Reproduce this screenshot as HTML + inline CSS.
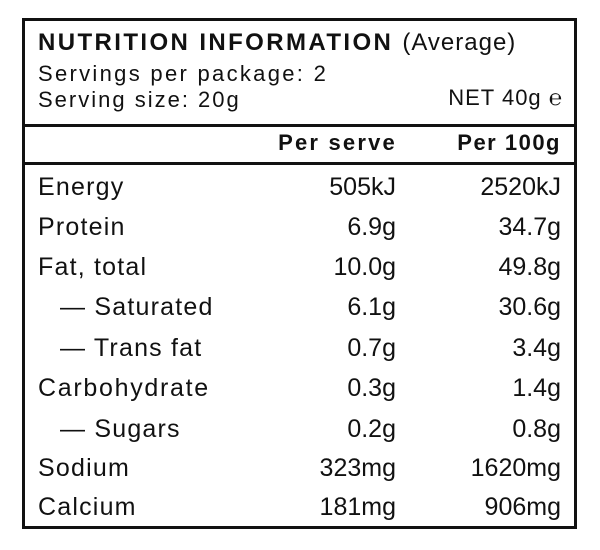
<!DOCTYPE html>
<html><head><style>
body{margin:0;width:600px;height:550px;background:#fff;font-family:"Liberation Sans",sans-serif;color:#111;position:relative;overflow:hidden}
.box{position:absolute;left:22px;top:18px;width:549px;height:505px;border:3px solid #111}
.hl{position:absolute;left:22px;width:555px;height:3px;background:#111}
.t{position:absolute;white-space:nowrap;line-height:1}
.r{position:absolute;white-space:nowrap;line-height:1;text-align:right;margin-right:-1px}
.row{font-size:25px;letter-spacing:1.2px}
</style></head><body>
<div class="box"></div>
<div class="hl" style="top:124px"></div>
<div class="hl" style="top:162px"></div>
<div class="t" style="left:38px;top:31px;font-size:24px;letter-spacing:2.4px"><b>NUTRITION INFORMATION</b> <span style="letter-spacing:1px">(Average)</span></div>
<div class="t" style="left:38px;top:63px;font-size:22px;letter-spacing:2.3px">Servings per package: 2</div>
<div class="t" style="left:38px;top:89px;font-size:22px;letter-spacing:2px">Serving size: 20g</div>
<div class="r" style="right:38px;top:87px;font-size:22px;letter-spacing:1px">NET 40g ℮</div>
<div class="r" style="right:204px;top:132px;font-size:22px;font-weight:bold;letter-spacing:2.2px">Per serve</div>
<div class="r" style="right:40px;top:132px;font-size:22px;font-weight:bold;letter-spacing:1.5px">Per 100g</div>

<div class="t row" style="left:38px;top:175px">Energy</div>
<div class="t row" style="left:38px;top:215px">Protein</div>
<div class="t row" style="left:38px;top:255px">Fat, total</div>
<div class="t row" style="left:60px;top:295px">— Saturated</div>
<div class="t row" style="left:60px;top:336px">— Trans fat</div>
<div class="t row" style="left:38px;top:376px;letter-spacing:1.7px">Carbohydrate</div>
<div class="t row" style="left:60px;top:417px">— Sugars</div>
<div class="t row" style="left:38px;top:456px">Sodium</div>
<div class="t row" style="left:38px;top:495px">Calcium</div>

<div class="r row" style="right:205px;top:175px;letter-spacing:0">505kJ</div>
<div class="r row" style="right:205px;top:215px;letter-spacing:0">6.9g</div>
<div class="r row" style="right:205px;top:255px;letter-spacing:0">10.0g</div>
<div class="r row" style="right:205px;top:295px;letter-spacing:0">6.1g</div>
<div class="r row" style="right:205px;top:336px;letter-spacing:0">0.7g</div>
<div class="r row" style="right:205px;top:376px;letter-spacing:0">0.3g</div>
<div class="r row" style="right:205px;top:417px;letter-spacing:0">0.2g</div>
<div class="r row" style="right:205px;top:456px;letter-spacing:0">323mg</div>
<div class="r row" style="right:205px;top:495px;letter-spacing:0">181mg</div>

<div class="r row" style="right:40px;top:175px;letter-spacing:0">2520kJ</div>
<div class="r row" style="right:40px;top:215px;letter-spacing:0">34.7g</div>
<div class="r row" style="right:40px;top:255px;letter-spacing:0">49.8g</div>
<div class="r row" style="right:40px;top:295px;letter-spacing:0">30.6g</div>
<div class="r row" style="right:40px;top:336px;letter-spacing:0">3.4g</div>
<div class="r row" style="right:40px;top:376px;letter-spacing:0">1.4g</div>
<div class="r row" style="right:40px;top:417px;letter-spacing:0">0.8g</div>
<div class="r row" style="right:40px;top:456px;letter-spacing:0">1620mg</div>
<div class="r row" style="right:40px;top:495px;letter-spacing:0">906mg</div>
</body></html>
